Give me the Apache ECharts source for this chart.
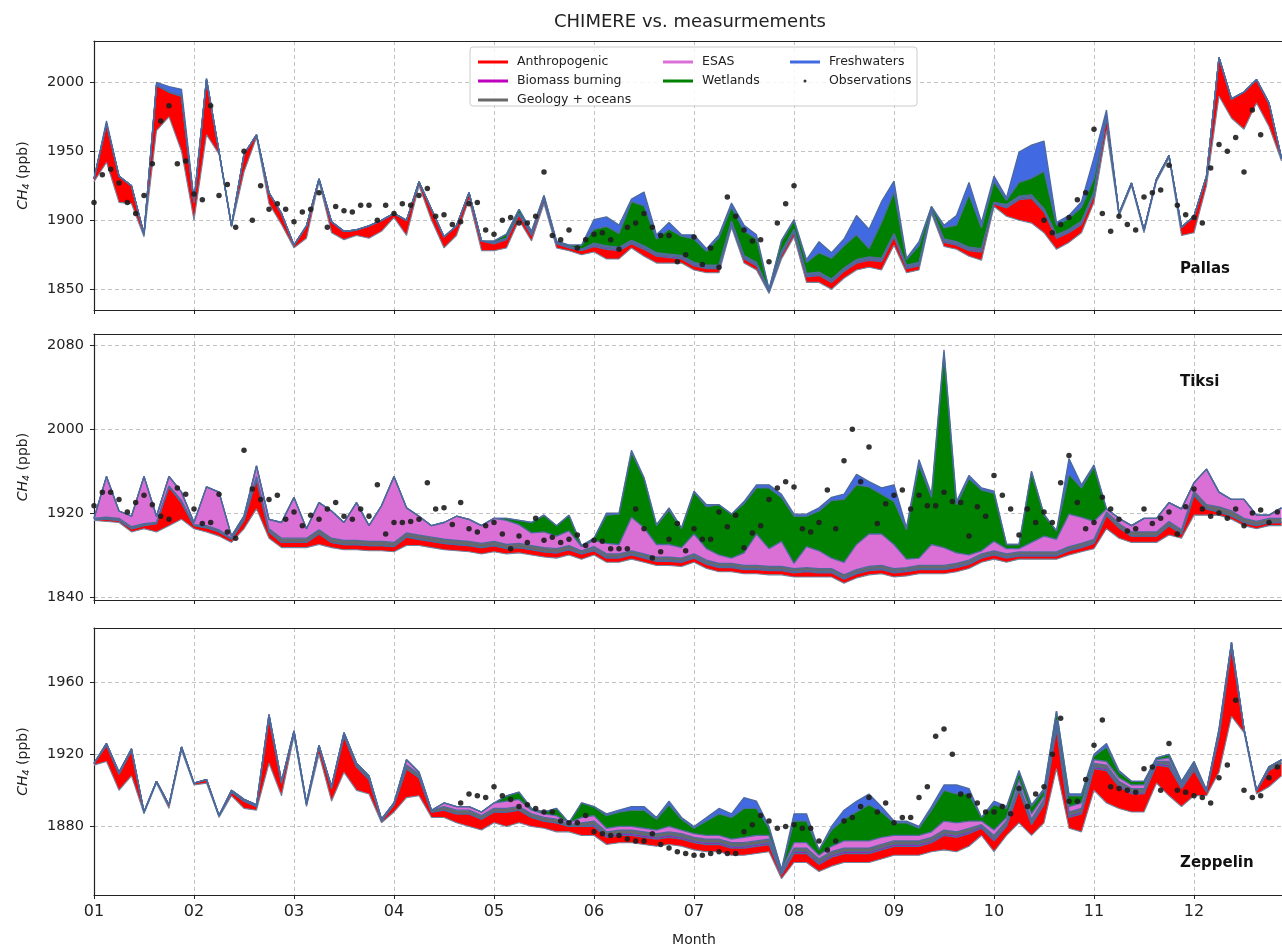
<!DOCTYPE html>
<html>
<head>
<meta charset="utf-8">
<title>CHIMERE vs. measurmements</title>
<script src="https://cdn.jsdelivr.net/npm/echarts@6/dist/echarts.min.js"></script>
<style>
html,body{margin:0;padding:0;background:#fff;}
#main{width:1282px;height:948px;}
</style>
</head>
<body>
<div id="main"></div>
<script>
var FONT = 'DejaVu Sans';

// model values every 1/8 month (k = 0..95), observations every 1/12 month (i = 0..142)
var pallasBase = [
 1928,1942,1913,1912,1888,1965,1975,1950,
 1900,1962,1948,1895,1935,1960,1912,1897,
 1880,1887,1928,1891,1886,1889,1887,1892,
 1902,1889,1925,1900,1880,1889,1915,1878,
 1878,1880,1900,1885,1912,1880,1878,1875,
 1877,1872,1872,1880,1874,1869,1869,1869,
 1864,1862,1862,1895,1869,1864,1847,1872,
 1888,1855,1855,1850,1858,1864,1866,1864,
 1882,1862,1864,1905,1881,1879,1874,1871,
 1910,1903,1900,1898,1891,1879,1884,1891,
 1913,1965,1903,1925,1891,1928,1945,1889,
 1891,1925,1990,1974,1966,1985,1968,1943];
var pallasAnth = [
 2,28,19,13,2,33,18,40,
 13,40,2,1,13,2,8,8,
 2,9,2,8,6,4,9,8,
 3,11,3,8,8,7,5,7,
 5,6,4,4,3,3,2,3,
 4,7,6,3,5,5,4,3,
 3,3,3,2,3,3,1,3,
 3,4,5,5,5,5,5,6,
 6,3,3,2,3,3,4,6,
 2,6,15,18,15,8,7,6,
 5,10,2,2,2,2,2,6,
 12,7,28,14,27,17,17,2];
var pallasBio = [
 0,0,0,0,0,0,0,0,
 0,0,0,0,0,0,0,0,
 0,0,0,0,0,0,0,0,
 0,0,0,0,0,0,0,0,
 1,1,1,1,1,1,1,1,
 1,1,1,1,1,1,1,1,
 1,1,1,1,1,1,1,1,
 1,1,1,1,1,1,1,1,
 1,1,1,1,1,1,1,1,
 1,1,1,1,1,1,1,1,
 1,0,0,0,0,0,0,0,
 0,0,0,0,0,0,0,0];
var pallasGeo = [
 0,0,0,0,0,0,0,0,
 0,0,0,0,0,0,0,0,
 0,0,0,0,0,0,0,0,
 0,0,0,0,0,0,0,0,
 0,0,0,0,0,0,0,0,
 1,1,1,1,1,1,1,1,
 1,1,1,1,1,1,0,1,
 1,1,1,1,1,1,1,1,
 1,1,1,0,1,1,1,1,
 0,1,1,1,1,1,1,1,
 1,0,0,0,0,0,0,0,
 0,0,0,0,0,0,0,0];
var pallasEsas = [
 0,0,0,0,0,0,0,0,
 0,0,0,0,0,0,0,0,
 0,0,0,0,0,0,0,0,
 0,0,0,0,0,0,0,0,
 0,0,0,0,0,0,0,0,
 0.5,0.5,0.5,0.5,0.5,0.5,0.5,0.5,
 0.5,0.5,0.5,0.5,0.5,0.5,0,0.5,
 0.5,0.5,0.5,0.5,0.5,0.5,0.5,0.5,
 0.5,0.5,0.5,0,0.5,0.5,0.5,0.5,
 0,0.5,0.5,0.5,0.5,0.5,0.5,0.5,
 0.5,0,0,0,0,0,0,0,
 0,0,0,0,0,0,0,0];
var pallasWet = [
 0,0,0,0,0,0,0,0,
 0,0,0,0,0,0,0,0,
 0,0,0,0,0,0,0,0,
 0,0,0,0,0,0,0,0,
 1,3,3,2,2,1,1,3,
 10,14,10,28,29,10,18,14,
 17,10,20,10,18,17,1,7,
 6,8,14,15,16,18,6,26,
 30,4,12,2,8,12,38,15,
 15,3,10,12,27,7,8,10,
 10,0,0,0,0,0,0,0,
 0,0,0,0,0,0,0,0];
var pallasFresh = [
 0,2,0,0,0,2,4,5,
 2,1,0,0,0,0,0,0,
 0,0,0,0,0,0,0,0,
 0,0,0,0,0,0,0,0,
 0,0,0,0,0,0,0,0,
 7,7,6,2,10,3,5,1,
 3,2,2,3,4,3,0,1,
 1,2,8,4,5,14,14,15,
 8,1,3,0,2,7,9,4,
 4,2,22,24,22,2,2,4,
 15,5,0,0,0,0,0,0,
 0,0,0,0,0,0,0,0];
var pallasObs = [
 1913,1933,1937,1927,1913,1905,1918,1941,1972,1983,1941,1943,
 1919,1915,1983,1918,1926,1895,1950,1900,1925,1908,1912,1908,
 1899,1906,1908,1920,1895,1910,1907,1906,1911,1911,1900,1911,
 1905,1912,1911,1918,1923,1903,1904,1897,1899,1912,1913,1893,
 1890,1900,1902,1898,1898,1903,1935,1889,1886,1893,1880,1886,
 1890,1891,1886,1879,1895,1898,1905,1895,1889,1889,1870,1875,
 1888,1868,1880,1866,1917,1903,1893,1885,1886,1870,1898,1912,
 1925,null,null,null,null,null,null,null,null,null,null,null,
 null,null,null,null,null,null,null,null,null,null,null,null,
 null,null,null,null,null,null,1900,1891,1897,1902,1915,1920,
 1966,1905,1892,1903,1897,1893,1917,1920,1922,1940,1911,1904,
 1902,1898,1938,1955,1950,1960,1935,1980,1962,null,null];

var tiksiBase = [
 1913,1912,1911,1902,1905,1902,1908,1914,
 1905,1902,1898,1892,1905,1924,1896,1887,
 1887,1887,1890,1887,1885,1885,1884,1884,
 1883,1889,1889,1887,1885,1884,1883,1881,
 1883,1881,1882,1880,1878,1877,1880,1876,
 1880,1873,1873,1876,1873,1870,1870,1869,
 1873,1867,1864,1864,1862,1862,1861,1861,
 1859,1859,1859,1859,1853,1858,1861,1862,
 1859,1860,1862,1862,1862,1864,1867,1873,
 1876,1873,1876,1876,1876,1876,1880,1883,
 1886,1905,1896,1892,1892,1892,1899,1896,
 1918,1918,1918,1914,1908,1905,1908,1908];
var tiksiAnth = [
 1,2,2,3,3,8,37,16,
 3,4,4,3,8,28,6,5,
 5,5,10,5,5,5,5,5,
 5,8,6,6,6,6,6,6,
 6,5,5,5,5,5,5,5,
 4,4,4,4,4,4,4,4,
 4,4,4,4,4,4,4,4,
 4,5,4,4,4,4,4,4,
 4,4,4,4,4,4,4,4,
 4,4,3,3,3,3,4,4,
 5,13,10,6,6,6,9,4,
 19,6,3,3,3,3,3,3];
var tiksiBio = [
 0,0,0,0,0,0,0,0,
 0,0,0,0,0,0,0,0,
 0,0,0,0,0,0,0,0,
 0,0,0,0,0,0,0,0,
 0,0,0,0,0,0,0,0,
 1,1,1,1,1,1,1,1,
 1,1,1,1,1,1,1,1,
 1,1,1,1,1,1,1,1,
 1,1,1,1,1,1,1,1,
 1,1,1,1,1,1,1,1,
 1,0,0,0,0,0,0,0,
 0,0,0,0,0,0,0,0];
var tiksiGeo = [
 1,2,2,2,2,1,1,2,
 1,2,2,1,2,3,3,4,
 4,4,4,4,4,4,4,4,
 4,4,4,4,4,4,4,4,
 4,4,4,4,4,4,4,3,
 3,3,3,3,3,3,3,3,
 3,3,3,3,3,3,3,3,
 3,3,3,3,3,3,3,3,
 3,3,3,3,3,3,3,3,
 3,3,3,3,3,3,3,3,
 3,3,4,4,4,4,4,4,
 4,4,5,5,4,4,4,4];
var tiksiEsas = [
 0,39,7,10,45,6,9,8,
 2,37,36,2,2,10,9,15,
 39,9,26,26,17,36,15,34,
 63,24,18,11,16,23,21,17,
 22,23,18,12,15,12,14,4,
 6,10,9,32,25,12,12,10,
 19,11,8,5,12,30,17,24,
 5,20,17,10,12,24,31,30,
 23,8,7,20,17,10,5,3,
 9,5,3,9,15,12,31,25,
 17,3,5,6,13,13,18,20,
 8,34,14,11,18,6,3,10];
var tiksiWet = [
 0,0,0,0,0,0,0,0,
 0,0,0,0,0,0,0,0,
 0,0,0,0,0,0,0,0,
 0,0,0,0,0,0,0,0,
 0,2,4,10,16,10,15,1,
 2,27,29,62,47,18,33,18,
 40,40,48,42,47,44,58,42,
 45,29,38,55,60,57,45,38,
 41,28,89,45,185,46,73,58,
 46,4,4,67,20,8,38,28,
 52,0,0,0,0,0,0,0,
 0,0,0,0,0,0,0,0];
var tiksiFresh = [
 0,0,0,0,0,0,0,0,
 0,0,0,0,0,0,0,0,
 0,0,0,0,0,0,0,0,
 0,0,0,0,0,0,0,0,
 0,0,0,0,0,0,0,0,
 0,2,1,2,1,1,2,1,
 1,2,0,0,2,3,3,3,
 2,2,3,3,5,10,5,6,
 16,2,5,3,4,3,3,2,
 2,0,0,1,1,0,15,3,
 2,0,0,0,0,0,0,0,
 0,0,0,0,0,0,0,0];
var tiksiObs = [
 1927,1940,1940,1933,1921,1930,1937,1928,1917,1914,1944,1938,
 1924,1910,1911,1938,1902,1896,1980,1943,1933,1933,1937,1914,
 1921,1908,1918,1914,1924,1930,1917,1914,1924,1917,1947,1900,
 1911,1911,1912,1914,1949,1924,1925,1909,1930,1905,1902,1908,
 1911,1900,1886,1898,1892,1915,1894,1897,1892,1895,1899,1889,
 1894,1893,1886,1886,1886,1924,1905,1877,1883,1895,1910,1884,
 1905,1895,1895,1921,1907,1918,1887,1901,1908,1933,1944,1950,
 1945,1905,1902,1911,1942,1905,1970,2000,1950,1983,1910,1929,
 1937,1942,1924,1937,1927,1927,1940,1931,1930,1898,1926,1917,
 1956,1937,1924,1899,1924,1911,1921,1911,1949,1975,1930,1905,
 1911,1935,1924,1914,1903,1905,1924,1910,1915,1921,1900,1926,
 1943,1924,1917,1920,1915,1924,1908,1920,1923,1911,1921];

var zepBase = [
 1914,1916,1900,1908,1887,1904,1890,1922,
 1903,1904,1885,1897,1890,1889,1915,1897,
 1930,1891,1920,1894,1910,1900,1898,1882,
 1888,1896,1897,1885,1885,1882,1880,1878,
 1882,1880,1882,1880,1879,1877,1877,1875,
 1875,1870,1871,1871,1870,1869,1870,1869,
 1867,1866,1866,1864,1864,1865,1866,1851,
 1860,1860,1855,1858,1860,1860,1860,1862,
 1864,1864,1864,1866,1867,1866,1869,1875,
 1866,1875,1882,1875,1882,1912,1879,1877,
 1900,1893,1890,1888,1888,1904,1897,1891,
 1897,1897,1910,1941,1932,1898,1902,1908];
var zepAnth = [
 1,9,9,14,1,1,2,2,
 1,2,1,2,4,2,25,7,
 2,1,4,7,20,13,8,1,
 4,16,10,3,4,5,7,6,
 6,8,7,5,4,5,3,5,
 5,4,4,4,4,4,4,4,
 4,4,4,4,4,4,4,2,
 5,5,4,5,5,5,5,5,
 5,5,5,5,8,8,7,4,
 6,5,18,6,10,22,6,10,
 12,18,12,10,10,10,16,10,
 14,2,20,38,2,2,9,7];
var zepBio = [
 0,0,0,0,0,0,0,0,
 0,0,0,0,0,0,0,0,
 0,0,0,0,0,0,0,0,
 0,0,0,0,0,0,0,0,
 0,0,0,0,0,0,0,0,
 1,1,1,1,1,1,1,1,
 1,1,1,1,1,1,1,1,
 1,1,1,1,1,1,1,1,
 1,1,1,1,1,1,1,1,
 1,1,1,1,1,1,1,1,
 1,1,1,1,1,1,1,1,
 1,0,0,0,0,0,0,0];
var zepGeo = [
 0,1,1,1,0,0,0,0,
 0,0,0,1,1,1,2,1,
 1,1,1,1,2,2,2,1,
 1,2,2,1,2,2,2,2,
 2,2,2,2,2,2,1,2,
 2,2,2,2,2,2,2,2,
 2,2,2,2,2,2,2,1,
 2,2,2,2,2,2,2,2,
 2,2,2,2,2,2,2,1,
 2,2,2,2,2,2,2,2,
 2,2,2,2,2,1,2,1,
 2,1,2,2,0,0,2,2];
var zepEsas = [
 0,0,0,0,0,0,0,0,
 0,0,0,0,0,0,0,0,
 0,0,0,0,0,0,0,0,
 0,3,1,0,2,2,2,2,
 3,4,4,2,2,2,1,3,
 3,2,2,2,2,2,3,2,
 2,2,2,2,3,3,2,1,
 3,3,2,3,4,4,4,4,
 3,3,3,3,5,5,4,2,
 3,2,3,3,2,2,3,3,
 2,2,2,2,2,1,2,1,
 1,0,1,1,0,0,0,0];
var zepWet = [
 0,0,0,0,0,0,0,0,
 0,0,0,0,0,0,0,0,
 0,0,0,0,0,0,0,0,
 0,0,0,0,0,0,0,0,
 0,3,4,1,1,4,0,8,
 5,7,8,9,10,6,12,6,
 3,8,12,12,16,15,4,0,
 12,12,3,9,12,16,20,14,
 7,7,4,12,17,16,15,2,
 14,5,4,4,3,5,6,4,
 2,8,3,2,2,1,2,1,
 1,0,1,0,0,0,0,0];
var zepFresh = [
 0,0,0,0,0,0,0,0,
 0,0,0,0,0,0,0,0,
 0,0,0,0,0,0,0,0,
 0,0,0,0,0,0,0,0,
 0,0,0,0,0,0,0,0,
 0,1,1,2,2,1,2,1,
 1,2,3,2,6,4,1,0,
 4,4,0,2,5,6,6,3,
 1,1,1,2,3,5,3,0,
 2,1,1,1,1,0,1,1,
 1,2,1,0,0,0,0,0,
 0,0,0,0,0,0,0,0];
var zepObs = [
 null,null,null,null,null,null,null,null,null,null,null,null,
 null,null,null,null,null,null,null,null,null,null,null,null,
 null,null,null,null,null,null,null,null,null,null,null,null,
 null,null,null,null,null,null,null,null,1893,1898,1897,1896,
 1902,1897,1895,1891,1892,1890,1888,1888,1883,1882,1882,1886,
 1877,1876,1875,1875,1873,1872,1872,1876,1870,1868,1866,1865,
 1864,1864,1865,1866,1865,1865,1877,1881,1886,1883,1879,1880,
 1881,1879,1879,1872,1867,1872,1883,1885,1891,1896,1888,1893,
 1882,1885,1885,1896,1902,1930,1934,1920,1898,1897,1893,1888,
 1888,1891,1887,1901,1891,1898,1902,1920,1940,1894,1894,1906,
 1925,1939,1902,1901,1900,1899,1912,1913,1900,1926,1900,1899,
 1897,1896,1893,1907,1914,1950,1900,1896,1897,1907,1913];

var layerNames = ['Anthropogenic','Biomass burning','Geology + oceans','ESAS','Wetlands','Freshwaters'];
var layerColors = ['#ff0000','#bf00bf','#696969','#da70d6','#008000','#4169e1'];

var modelX = [];
for (var k = 0; k < 96; k++) modelX.push(1 + k / 8);
var obsX = [];
for (var i = 0; i < 143; i++) obsX.push(1 + i / 12);

// [value, month] so the value is the first (stacked) dimension
function pairs(xs, ys) {
	var out = [];
	for (var i = 0; i < xs.length; i++) {
		if (ys[i] === null || ys[i] === undefined) continue;
		out.push([ys[i], xs[i]]);
	}
	return out;
}

var panels = [
	{name:'Pallas', base:pallasBase, layers:[pallasAnth,pallasBio,pallasGeo,pallasEsas,pallasWet,pallasFresh], obs:pallasObs,
	 ymin:1835, ymax:2030, ticks:[1850,1900,1950,2000], top:41, height:269, labelY:269},
	{name:'Tiksi', base:tiksiBase, layers:[tiksiAnth,tiksiBio,tiksiGeo,tiksiEsas,tiksiWet,tiksiFresh], obs:tiksiObs,
	 ymin:1837, ymax:2091, ticks:[1840,1920,2000,2080], top:334, height:266, labelY:382},
	{name:'Zeppelin', base:zepBase, layers:[zepAnth,zepBio,zepGeo,zepEsas,zepWet,zepFresh], obs:zepObs,
	 ymin:1842, ymax:1990, ticks:[1880,1920,1960], top:628, height:267, labelY:863}
];

var grids = [], xAxes = [], yAxes = [], series = [], graphics = [];
var gridLine = {show:true, lineStyle:{color:'#b4b4b4', type:[4,3], width:0.8}};
var frame = {color:'#222', width:1.2};

for (var g = 0; g < panels.length; g++) {
	var p = panels[g];
	var last = (g == panels.length - 1);
	grids.push({left:94, top:p.top, width:1200, height:p.height, show:false, outerBoundsMode:'none', containLabel:false});
	xAxes.push({
		gridIndex:g, type:'value', min:1, max:13, interval:1, position:'bottom',
		axisLine:{show:true, onZero:false, lineStyle:frame},
		axisTick:{show:true, length:4, lineStyle:{color:'#222'}},
		axisLabel:{show:last, fontSize:16, fontFamily:FONT, color:'#222', margin:9,
			formatter:function(v){ return v < 13 ? (v < 10 ? '0' + v : '' + v) : ''; }},
		splitLine:gridLine,
		name: last ? 'Month' : '', nameLocation:'middle', nameGap:38,
		nameTextStyle:{fontSize:14, fontFamily:FONT, color:'#222'}
	});
	yAxes.push({
		gridIndex:g, type:'value', min:p.ymin, max:p.ymax,
		axisLine:{show:true, onZero:false, lineStyle:frame},
		axisTick:{show:true, length:4, customValues:p.ticks, lineStyle:{color:'#222'}},
		axisLabel:{customValues:p.ticks, fontSize:14.5, fontFamily:FONT, color:'#222', margin:10,
			formatter:function(v){ return '' + v; }},
		splitLine:gridLine,
		name:'{it|CH}{sub|4} (ppb)', nameLocation:'middle', nameRotate:90, nameGap:62,
		nameTextStyle:{fontSize:14, fontFamily:FONT, color:'#222',
			rich:{it:{fontStyle:'italic', fontSize:14, fontFamily:FONT, color:'#222'},
			      sub:{fontStyle:'italic', fontSize:9.5, fontFamily:FONT, color:'#222', padding:[7,0,0,0]}}}
	});
	series.push({
		name:'Background', type:'line', xAxisIndex:g, yAxisIndex:g, stack:'s' + g,
		encode:{x:1, y:0}, data:pairs(modelX, p.base), symbol:'none',
		lineStyle:{color:'#6f86a0', width:1.1}, itemStyle:{color:'#6f86a0'}, z:2
	});
	for (var j = 0; j < layerNames.length; j++) {
		var top = (j == layerNames.length - 1);
		series.push({
			name:layerNames[j], type:'line', xAxisIndex:g, yAxisIndex:g, stack:'s' + g,
			encode:{x:1, y:0}, data:pairs(modelX, p.layers[j]), symbol:'none',
			color:layerColors[j],
			areaStyle:{color:layerColors[j], opacity:1},
			lineStyle:{color: top ? '#4d6a9c' : layerColors[j], width: top ? 1.3 : 0.6},
			z:2
		});
	}
	series.push({
		name:'Observations', type:'scatter', xAxisIndex:g, yAxisIndex:g,
		encode:{x:1, y:0}, data:pairs(obsX, p.obs), symbol:'circle', symbolSize:5.5,
		itemStyle:{color:'#1e1e1e', opacity:0.9}, z:5
	});
	graphics.push({type:'text', z:10, style:{text:p.name, x:1180, y:p.labelY,
		align:'left', verticalAlign:'middle', textAlign:'left', textVerticalAlign:'middle',
		font:'bold 15px "DejaVu Sans"', fill:'#111'}});
}
// top frame line of every panel
for (var g2 = 0; g2 < panels.length; g2++) {
	xAxes.push({
		gridIndex:g2, type:'value', min:1, max:13, interval:1, position:'top',
		axisLine:{show:true, onZero:false, lineStyle:frame},
		axisTick:{show:false}, axisLabel:{show:false}, splitLine:{show:false}
	});
}

graphics.push({type:'text', z:10, style:{text:'CHIMERE vs. measurmements', x:690, y:22,
	align:'center', verticalAlign:'middle', textAlign:'center', textVerticalAlign:'middle',
	font:'18px "DejaVu Sans"', fill:'#222'}});
graphics.push({type:'rect', z:3, shape:{x:470, y:47, width:447, height:59, r:3},
	style:{fill:'rgba(255,255,255,0.85)', stroke:'#cccccc', lineWidth:1}});

var legendText = {fontSize:12.5, fontFamily:FONT, color:'#222', lineHeight:14, padding:[0,0,0,4]};
var legendBase = {orient:'vertical', top:50, itemGap:5, itemWidth:30, itemHeight:3, icon:'rect',
	selectedMode:false, textStyle:legendText, z:6};

var option = {
	animation:false,
	backgroundColor:'#fff',
	textStyle:{fontFamily:FONT},
	grid:grids,
	xAxis:xAxes,
	yAxis:yAxes,
	legend:[
		echarts.util.extend({left:473, data:['Anthropogenic','Biomass burning','Geology + oceans']}, legendBase),
		echarts.util.extend({left:658, data:['ESAS','Wetlands']}, legendBase),
		echarts.util.extend({left:785, data:['Freshwaters', {name:'Observations', icon:'circle'}]}, legendBase)
	],
	graphic:graphics,
	series:series
};

var myChart = echarts.init(document.getElementById('main'));
myChart.setOption(option);
</script>
</body>
</html>
